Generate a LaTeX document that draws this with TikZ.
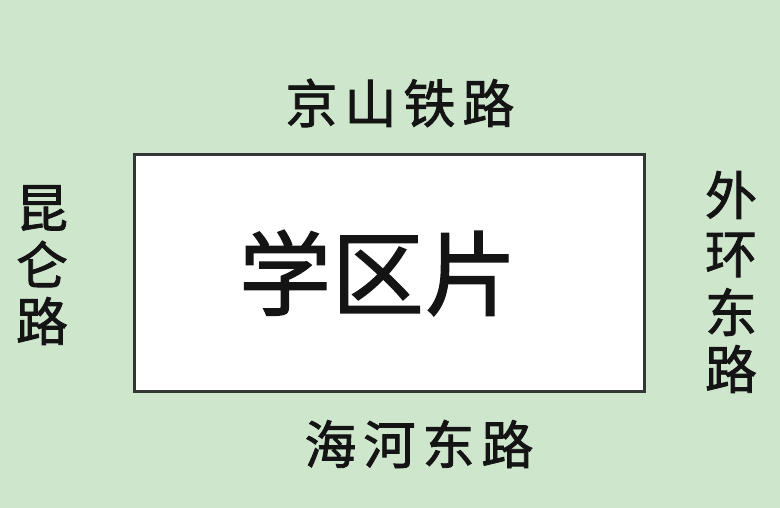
\documentclass[tikz,border=0pt]{standalone}
\usepackage{fontspec}
\newfontfamily\cjk[FakeBold=1.6]{Noto Sans CJK SC}
\definecolor{bggreen}{RGB}{206,230,204}
\definecolor{inkc}{RGB}{20,20,20}
\definecolor{framec}{RGB}{50,54,52}
\begin{document}
\begin{tikzpicture}[x=1pt,y=-1pt,
  lbl/.style={inner sep=0pt,text=inkc,font=\cjk\fontsize{52}{52}\selectfont},
  big/.style={inner sep=0pt,text=inkc,font=\cjk\fontsize{92}{92}\selectfont}]
\fill[bggreen] (0,0) rectangle (780,508);
\useasboundingbox (0,0) rectangle (780,508);
\node[draw=framec,line width=2.2pt,fill=white,minimum width=510pt,minimum height=237pt,inner sep=0pt] (box) at (389.5,273) {};
\node[big] (title) at (378,273) {学\hspace{1pt}区\hspace{1pt}片};
\node[lbl] (top) at (400,103) {京\hspace{7pt}山\hspace{7pt}铁\hspace{7pt}路};
\node[lbl] (bottom) at (419,444) {海\hspace{7pt}河\hspace{7pt}东\hspace{7pt}路};
\node[lbl] (l1) at (42,208) {昆};
\node[lbl] (l2) at (42,264) {仑};
\node[lbl] (l3) at (42,321) {路};
\node[lbl] (r1) at (731,195) {外};
\node[lbl] (r2) at (731,255) {环};
\node[lbl] (r3) at (731,312) {东};
\node[lbl] (r4) at (731,369) {路};
\end{tikzpicture}
\end{document}
